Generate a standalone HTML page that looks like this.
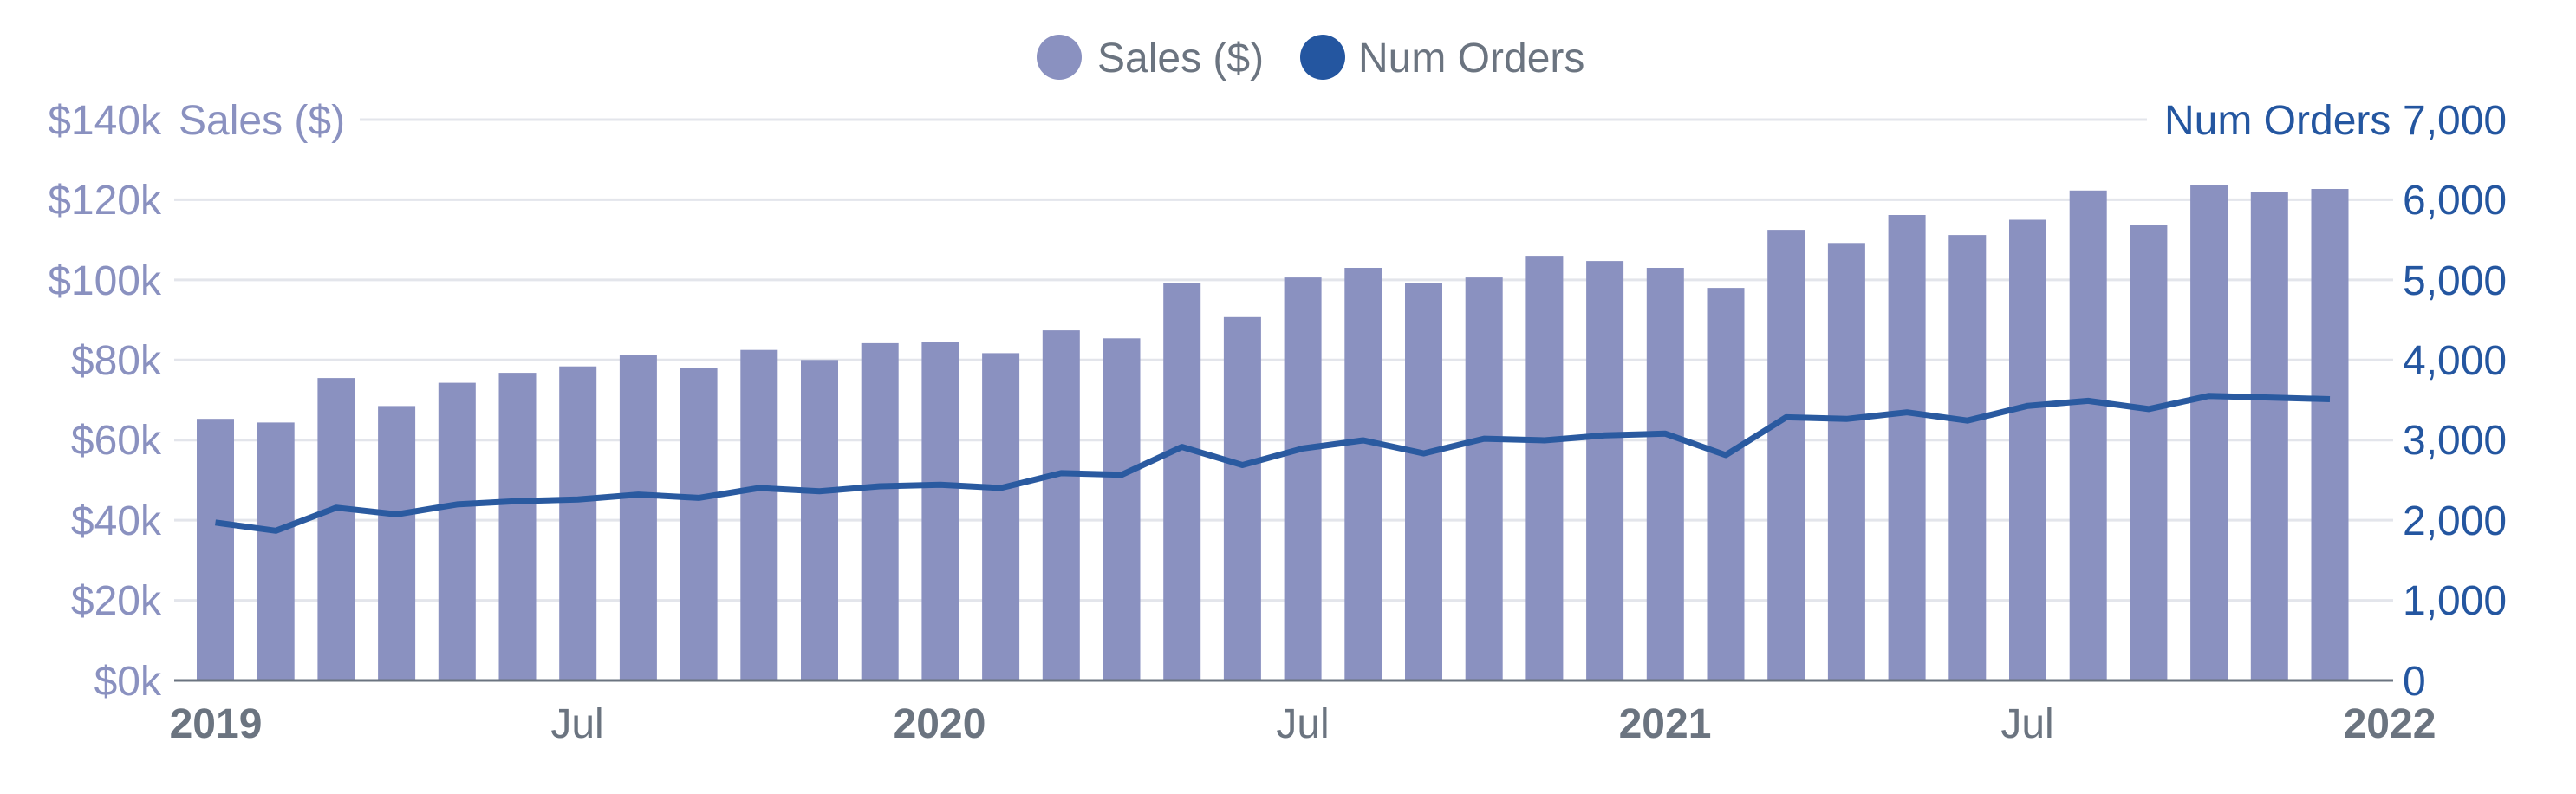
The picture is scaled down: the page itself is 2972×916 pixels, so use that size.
<!DOCTYPE html>
<html><head><meta charset="utf-8"><style>
html,body{margin:0;padding:0;background:#fff;}
svg{display:block;}
text{font-family:"Liberation Sans",sans-serif;font-size:48px;}
</style></head><body>
<svg id="c" width="2972" height="916" viewBox="0 0 2972 916" xmlns="http://www.w3.org/2000/svg">
<g stroke="#e3e5eb" stroke-width="3">
<line x1="415" y1="138" x2="2477" y2="138"/>
<line x1="201" y1="230.4" x2="2761" y2="230.4"/>
<line x1="201" y1="322.9" x2="2761" y2="322.9"/>
<line x1="201" y1="415.3" x2="2761" y2="415.3"/>
<line x1="201" y1="507.7" x2="2761" y2="507.7"/>
<line x1="201" y1="600.1" x2="2761" y2="600.1"/>
<line x1="201" y1="692.6" x2="2761" y2="692.6"/>
</g>
<g id="bars" fill="#8a91c0"></g>
<polyline id="ln" fill="none" stroke="#2a5aa0" stroke-width="7" stroke-linejoin="round"/>
<line x1="201" y1="785" x2="2761" y2="785" stroke="#6b7480" stroke-width="3"/>
<g fill="#8a91c0" text-anchor="end">
<text x="186" y="155">$140k</text>
<text x="186" y="247">$120k</text>
<text x="186" y="340">$100k</text>
<text x="186" y="432">$80k</text>
<text x="186" y="524">$60k</text>
<text x="186" y="617">$40k</text>
<text x="186" y="709">$20k</text>
<text x="186" y="802">$0k</text>
</g>
<text x="206" y="155" fill="#8a91c0">Sales ($)</text>
<g fill="#2456a0">
<text x="2497" y="155">Num Orders</text>
<text x="2772" y="155">7,000</text>
<text x="2772" y="247">6,000</text>
<text x="2772" y="340">5,000</text>
<text x="2772" y="432">4,000</text>
<text x="2772" y="524">3,000</text>
<text x="2772" y="617">2,000</text>
<text x="2772" y="709">1,000</text>
<text x="2772" y="802">0</text>
</g>
<g fill="#6b7480" text-anchor="middle">
<text x="249" y="851" font-weight="bold">2019</text>
<text x="666" y="851">Jul</text>
<text x="1084" y="851" font-weight="bold">2020</text>
<text x="1503" y="851">Jul</text>
<text x="1921" y="851" font-weight="bold">2021</text>
<text x="2339" y="851">Jul</text>
<text x="2757" y="851" font-weight="bold">2022</text>
</g>
<circle cx="1222" cy="66" r="26" fill="#8a91c0"/>
<text x="1266" y="83" fill="#6b7480">Sales ($)</text>
<circle cx="1526" cy="66" r="26" fill="#2456a0"/>
<text x="1567" y="83" fill="#6b7480">Num Orders</text>
</svg>
<script>
var s=[65.3,64.4,75.5,68.5,74.3,76.8,78.4,81.3,78,82.5,80,84.2,84.6,81.7,87.4,85.4,99.3,90.7,100.6,103,99.3,100.6,106,104.7,103,98,112.5,109.2,116.2,111.2,115,122.3,113.7,123.6,122,122.7];
var o=[1971,1868,2156,2073,2197,2238,2258,2320,2279,2402,2361,2423,2443,2402,2587,2566,2915,2689,2895,2997,2833,3018,2997,3059,3080,2813,3285,3264,3346,3244,3428,3490,3387,3552,3531,3511];
var g=document.getElementById('bars'),h='',p=[];
for(var i=0;i<36;i++){var x=227+i*69.7,y=785-s[i]*647/140;
h+='<rect x="'+x.toFixed(1)+'" y="'+y.toFixed(1)+'" width="43" height="'+(785-y).toFixed(1)+'"/>';
p.push((248.5+i*69.7).toFixed(1)+','+(785-o[i]*647/7000).toFixed(1));}
g.innerHTML=h;document.getElementById('ln').setAttribute('points',p.join(' '));
</script>
</body></html>
